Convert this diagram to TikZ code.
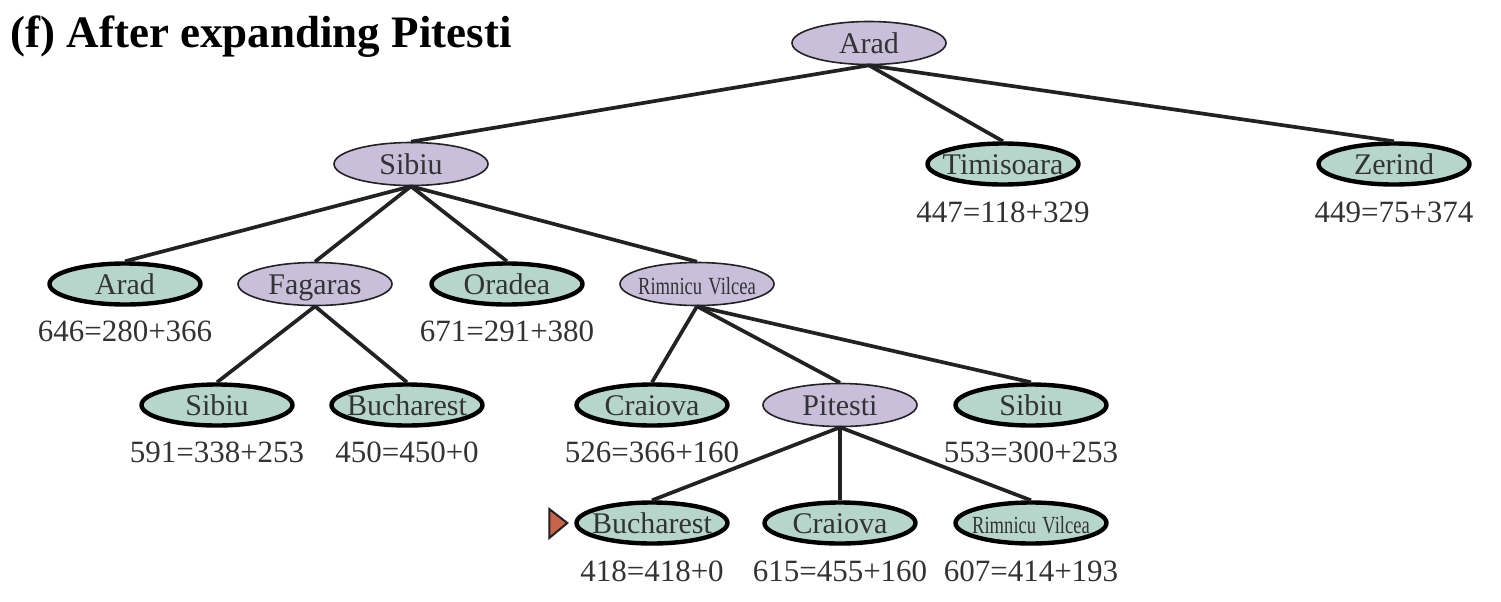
\documentclass[tikz,border=0pt]{standalone}
\usepackage{fontspec}
\setmainfont{Liberation Serif}
\usetikzlibrary{shapes.geometric,calc}
\definecolor{expfill}{HTML}{C9BFDB}
\definecolor{leaffill}{HTML}{B7D6CB}
\definecolor{txt}{HTML}{333333}
\definecolor{edgec}{HTML}{222222}
\definecolor{markc}{HTML}{C8644A}
\tikzset{
  base/.style={ellipse, inner sep=0pt, text=txt, font=\fontsize{15}{18}\selectfont,
    text width=0pt, align=center, text height=10pt, text depth=0pt},
  expnode/.style={base, draw=edgec, line width=0.8pt, fill=expfill, minimum width=77pt, minimum height=21.5pt},
  leafnode/.style={base, draw=black, line width=2.2pt, fill=leaffill, minimum width=75.5pt, minimum height=20.5pt},
  cost/.style={text=txt, font=\fontsize{15.5}{18}\selectfont, inner sep=0pt},
  edge/.style={draw=edgec, line width=1.85pt},
  markshape/.style={fill=markc, draw=edgec, line width=1pt, line join=miter}
}
\newcommand{\nt}[1]{\makebox[0pt]{#1}}
\newcommand{\rvtext}{\makebox[0pt]{\scalebox{0.62}[0.82]{Rimnicu Vilcea}}}
\begin{document}
\begin{tikzpicture}[x=0.5pt,y=-0.5pt]
\useasboundingbox (0,0) rectangle (1501,601);
\node[anchor=base west, inner sep=0pt, text=black, font=\fontsize{22.5}{26}\selectfont\bfseries] (title) at (10,47) {(f) After expanding Pitesti};
% level 1
\node[expnode] (arad) at (869,43) {\nt{Arad}};
% level 2
\node[expnode] (sibiu) at (411,164) {\nt{Sibiu}};
\node[leafnode] (tim) at (1003,164) {\nt{Timisoara}};
\node[leafnode] (zer) at (1394,164) {\nt{Zerind}};
% level 3
\node[leafnode] (arad2) at (125,284) {\nt{Arad}};
\node[expnode] (fag) at (315,284) {\nt{Fagaras}};
\node[leafnode] (ora) at (507,284) {\nt{Oradea}};
\node[expnode] (rv) at (697,284) {\rvtext};
% level 4
\node[leafnode] (sib2) at (217,405) {\nt{Sibiu}};
\node[leafnode] (buc1) at (407,405) {\nt{Bucharest}};
\node[leafnode] (cra1) at (652,405) {\nt{Craiova}};
\node[expnode] (pit) at (840,405) {\nt{Pitesti}};
\node[leafnode] (sib3) at (1031,405) {\nt{Sibiu}};
% level 5
\node[leafnode] (buc2) at (652,523) {\nt{Bucharest}};
\node[leafnode] (cra2) at (840,523) {\nt{Craiova}};
\node[leafnode] (rv2) at (1031,523) {\rvtext};
% cost labels
\node[cost] (ltim) at (1003,212) {447=118+329};
\node[cost] (lzer) at (1394,212) {449=75+374};
\node[cost] (larad2) at (125,331) {646=280+366};
\node[cost] (lora) at (507,331) {671=291+380};
\node[cost] (lsib2) at (217,452) {591=338+253};
\node[cost] (lbuc1) at (407,452) {450=450+0};
\node[cost] (lcra1) at (652,452) {526=366+160};
\node[cost] (lsib3) at (1031,452) {553=300+253};
\node[cost] (lbuc2) at (652,571) {418=418+0};
\node[cost] (lcra2) at (840,571) {615=455+160};
\node[cost] (lrv2) at (1031,571) {607=414+193};
% edges
\foreach \p/\c in {arad/sibiu, arad/tim, arad/zer,
                   sibiu/arad2, sibiu/fag, sibiu/ora, sibiu/rv,
                   fag/sib2, fag/buc1,
                   rv/cra1, rv/pit, rv/sib3,
                   pit/buc2, pit/cra2, pit/rv2}
  \draw[edge] (\p.south) -- (\c.north);
% marker
\draw[markshape] ($(buc2.west)+(-25,-14)$) -- ($(buc2.west)+(-25,15)$) -- ($(buc2.west)+(-7,0)$) -- cycle;
\end{tikzpicture}
\end{document}
